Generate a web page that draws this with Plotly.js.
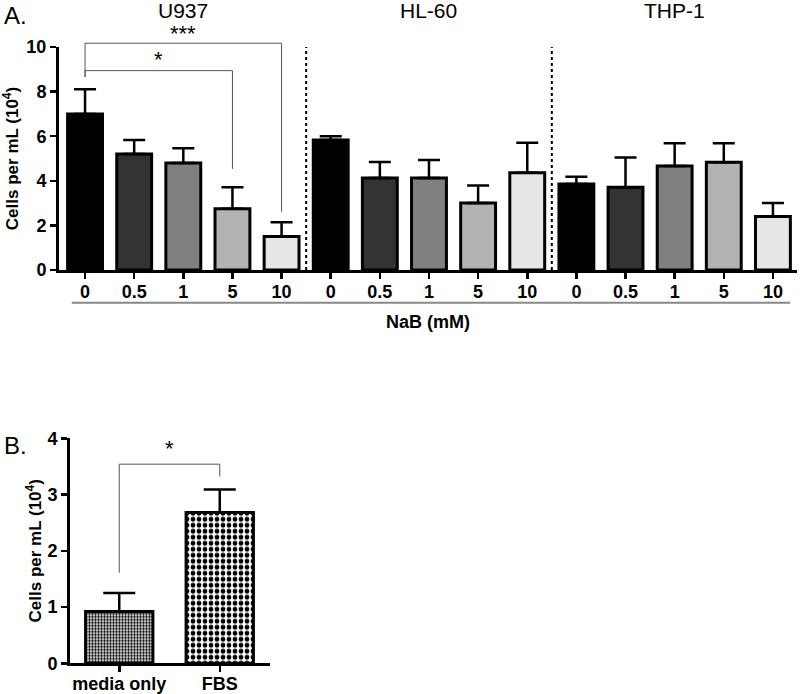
<!DOCTYPE html>
<html>
<head>
<meta charset="utf-8">
<script src="https://cdn.plot.ly/plotly-3.0.1.min.js"></script>
<style>html,body{margin:0;padding:0;background:#fff;}#chart{width:800px;height:694px;}</style>
</head>
<body>
<div id="chart"></div>
<script>
// ---------- data ----------
const doses = ['0', '0.5', '1', '5', '10'];
const cellLines = ['U937', 'HL-60', 'THP-1'];
const u937Mean = [7.0, 5.2, 4.8, 2.75, 1.5];
const u937Sem  = [1.1, 0.63, 0.66, 0.96, 0.64];
const hl60Mean = [5.83, 4.12, 4.12, 3.0, 4.36];
const hl60Sem  = [0.17, 0.72, 0.81, 0.79, 1.35];
const thp1Mean = [3.86, 3.71, 4.66, 4.83, 2.4];
const thp1Sem  = [0.32, 1.33, 1.02, 0.85, 0.6];
const yTicksA = [0, 2, 4, 6, 8, 10];

const serumGroups = ['media only', 'FBS'];
const serumMean = [0.92, 2.68];
const serumSem  = [0.33, 0.41];
const yTicksB = [0, 1, 2, 3, 4];

// significance comparisons (indices of doses inside U937 group / serum groups)
const sigA = [{from: 0, to: 3, label: '*'}, {from: 0, to: 4, label: '***'}];
const sigB = [{from: 0, to: 1, label: '*'}];

// ---------- styles ----------
const doseShades = ['#000000', '#333333', '#808080', '#b3b3b3', '#e6e6e6'];
const serumPatternSize = [3, 6];
const FONT = 'Liberation Sans, Arial, sans-serif';
const domA = [1 - 270 / 694, 1 - 47 / 694];
const domB = [1 - 663.3 / 694, 1 - 438.3 / 694];

// ---------- build panel A ----------
const means = [u937Mean, hl60Mean, thp1Mean];
const sems = [u937Sem, hl60Sem, thp1Sem];
const xA = [], yA = [], eA = [], cA = [], tickText = [];
cellLines.forEach((cl, g) => {
  doses.forEach((d, i) => {
    xA.push(g * doses.length + i);
    yA.push(means[g][i]);
    eA.push(sems[g][i]);
    cA.push(doseShades[i]);
    tickText.push(d);
  });
});
const n = xA.length;
const yMaxA = yTicksA[yTicksA.length - 1];
const yMaxB = yTicksB[yTicksB.length - 1];
const paperA = v => domA[0] + (v / yMaxA) * (domA[1] - domA[0]);

const traces = [{
  type: 'bar', x: xA, y: yA, width: 0.71,
  xaxis: 'x', yaxis: 'y',
  marker: {color: cA, line: {color: '#000', width: 3}},
  error_y: {type: 'data', array: eA, arrayminus: eA.map(() => 0), visible: true,
            color: '#000', thickness: 2.5, width: 11},
  hoverinfo: 'skip'
}];

serumGroups.forEach((grp, i) => {
  traces.push({
    type: 'bar', x: [grp], y: [serumMean[i]], width: 0.67,
    xaxis: 'x2', yaxis: 'y2',
    marker: {
      color: '#ffffff',
      line: {color: '#000', width: 3},
      pattern: {shape: '.', fgcolor: '#000000', bgcolor: '#ffffff', fillmode: 'replace',
                size: serumPatternSize[i], solidity: 0.5}
    },
    error_y: {type: 'data', array: [serumSem[i]], arrayminus: [0], visible: true,
              color: '#000', thickness: 2.5, width: 16},
    hoverinfo: 'skip'
  });
});

// ---------- shapes & annotations ----------
const shapes = [];
const annotations = [];
const thin = {color: '#555', width: 1};

// group dividers
for (let g = 1; g < cellLines.length; g++) {
  const xv = g * doses.length - 0.5;
  shapes.push({type: 'line', xref: 'x', yref: 'y', x0: xv, x1: xv, y0: 0, y1: yMaxA,
               line: {color: '#000', width: 2, dash: 'dot'}});
}
// gray line above x title
shapes.push({type: 'line', xref: 'x', yref: 'paper', x0: -0.27, x1: n - 1 + 0.35,
             y0: 1 - 302.7 / 694, y1: 1 - 302.7 / 694, line: {color: '#888', width: 2}});

// significance brackets panel A (heights in data units)
const sigAHeights = [{top: 8.94, legL: 8.65, legR: 4.53, txt: 9.45}, {top: 10.17, legL: 8.65, legR: 2.61, txt: 10.6}];
sigA.forEach((s, k) => {
  const h = sigAHeights[k];
  const t = paperA(h.top);
  shapes.push({type: 'line', xref: 'x', yref: 'paper', x0: s.from, x1: s.to, y0: t, y1: t, line: thin});
  shapes.push({type: 'line', xref: 'x', yref: 'paper', x0: s.from, x1: s.from, y0: t, y1: paperA(h.legL), line: thin});
  shapes.push({type: 'line', xref: 'x', yref: 'paper', x0: s.to, x1: s.to, y0: t, y1: paperA(h.legR), line: thin});
  annotations.push({xref: 'x', yref: 'paper', x: (s.from + s.to) / 2, y: paperA(h.txt), yanchor: 'middle',
                    text: s.label, showarrow: false, font: {family: FONT, size: 22, color: '#000'}});
});
// significance bracket panel B
const sigBHeights = [{top: 3.54, legL: 1.61, legR: 3.32, txt: 3.82}];
sigB.forEach((s, k) => {
  const h = sigBHeights[k];
  shapes.push({type: 'line', xref: 'x2', yref: 'y2', x0: s.from, x1: s.to, y0: h.top, y1: h.top, line: thin});
  shapes.push({type: 'line', xref: 'x2', yref: 'y2', x0: s.from, x1: s.from, y0: h.top, y1: h.legL, line: thin});
  shapes.push({type: 'line', xref: 'x2', yref: 'y2', x0: s.to, x1: s.to, y0: h.top, y1: h.legR, line: thin});
  annotations.push({xref: 'x2', yref: 'y2', x: (s.from + s.to) / 2, y: h.txt, yanchor: 'middle',
                    text: s.label, showarrow: false, font: {family: FONT, size: 22, color: '#000'}});
});

// cell line labels
cellLines.forEach((cl, g) => {
  annotations.push({xref: 'x', yref: 'paper', x: g * doses.length + (doses.length - 1) / 2, y: 1 - 11 / 694,
                    yanchor: 'middle', text: cl, showarrow: false, font: {family: FONT, size: 21, color: '#000'}});
});
// panel letters
annotations.push({xref: 'paper', yref: 'paper', x: 2 / 800, y: 1 - 16 / 694, xanchor: 'left', yanchor: 'middle',
                  text: 'A.', showarrow: false, font: {family: FONT, size: 24, color: '#000'}});
annotations.push({xref: 'paper', yref: 'paper', x: 2 / 800, y: 1 - 445 / 694, xanchor: 'left', yanchor: 'middle',
                  text: 'B.', showarrow: false, font: {family: FONT, size: 24, color: '#000'}});

const axisCommon = {
  showgrid: false, zeroline: false, showline: true, linecolor: '#000', linewidth: 3,
  ticks: 'outside', ticklen: 6, tickwidth: 2.5, tickcolor: '#000',
  tickfont: {family: FONT, size: 18, color: '#000', weight: 'bold'},
  fixedrange: true
};
const yTitle = 'Cells per mL (10<sup>4</sup>)';

const layout = {
  width: 800, height: 694,
  margin: {l: 0, r: 0, t: 0, b: 0},
  paper_bgcolor: '#fff', plot_bgcolor: '#fff',
  showlegend: false,
  barmode: 'overlay',
  font: {family: FONT, color: '#000'},
  xaxis: Object.assign({}, axisCommon, {
    domain: [59 / 800, 797 / 800], anchor: 'y',
    range: [-0.53, n - 1 + 0.49],
    tickmode: 'array', tickvals: xA, ticktext: tickText, ticklabelstandoff: -3,
    title: {text: 'NaB (mM)', font: {family: FONT, size: 18, weight: 'bold'}, standoff: 15}
  }),
  yaxis: Object.assign({}, axisCommon, {
    domain: domA, anchor: 'x',
    range: [0, yMaxA], tickmode: 'array', tickvals: yTicksA,
    title: {text: yTitle, font: {family: FONT, size: 17, weight: 'bold'}, standoff: 6}
  }),
  xaxis2: Object.assign({}, axisCommon, {
    domain: [70 / 800, 270 / 800], anchor: 'y2',
    type: 'category', range: [-0.49, 1.5], ticklabelstandoff: -4
  }),
  yaxis2: Object.assign({}, axisCommon, {
    domain: domB, anchor: 'x2',
    range: [0, yMaxB], tickmode: 'array', tickvals: yTicksB,
    title: {text: yTitle, font: {family: FONT, size: 17, weight: 'bold'}, standoff: 2}
  }),
  shapes: shapes,
  annotations: annotations
};

Plotly.newPlot('chart', traces, layout, {staticPlot: true, displayModeBar: false});
</script>
</body>
</html>
